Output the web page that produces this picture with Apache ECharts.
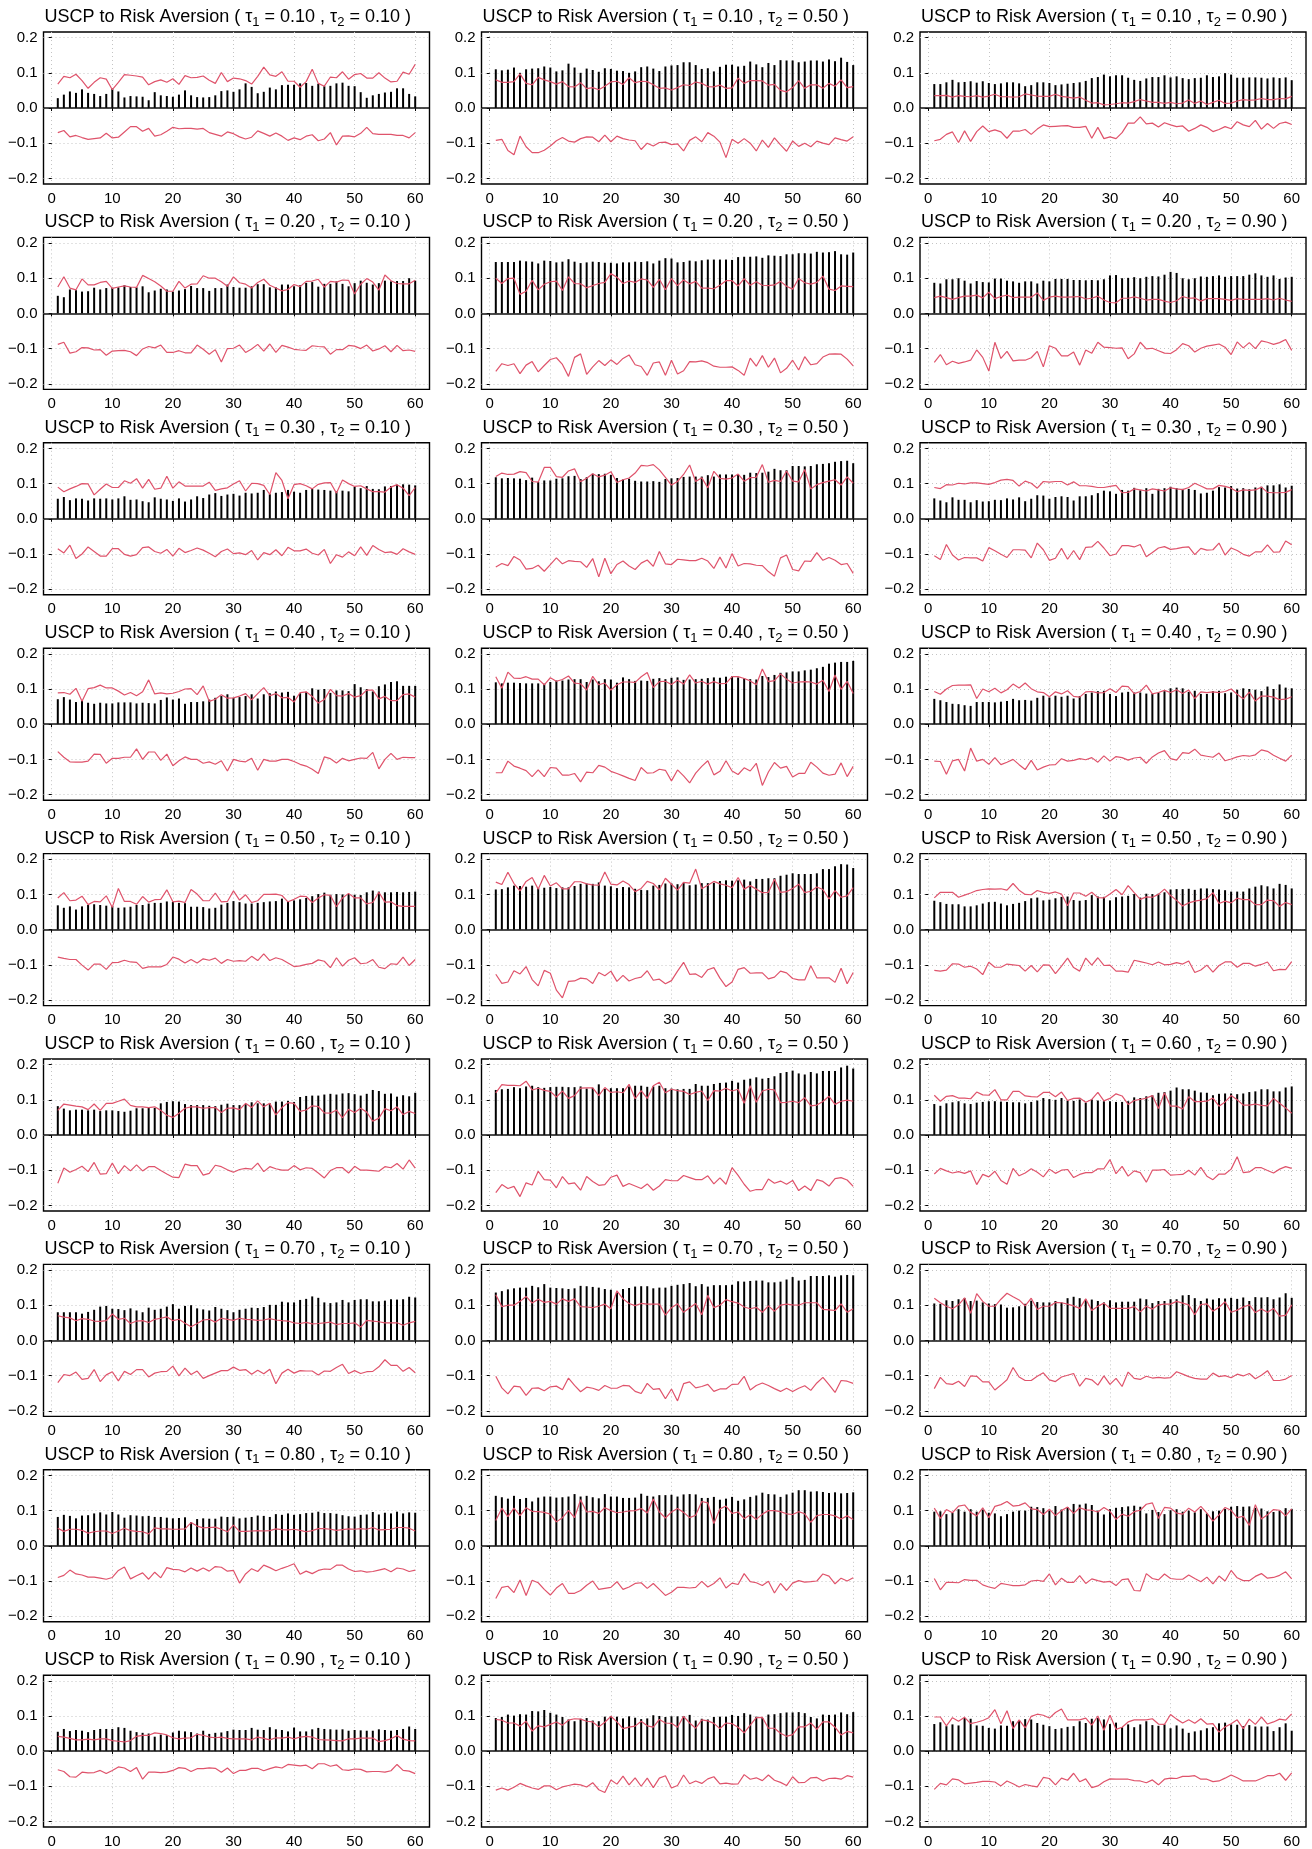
<!DOCTYPE html>
<html><head><meta charset="utf-8">
<script src="https://cdn.jsdelivr.net/npm/echarts@6/dist/echarts.min.js"></script>
<style>html,body{margin:0;padding:0;background:#fff}#c{width:1312px;height:1849px}</style>
</head><body><div id="c"></div>
<script>
const lags = [1,2,3,4,5,6,7,8,9,10,11,12,13,14,15,16,17,18,19,20,21,22,23,24,25,26,27,28,29,30,31,32,33,34,35,36,37,38,39,40,41,42,43,44,45,46,47,48,49,50,51,52,53,54,55,56,57,58,59,60];
const tau1Labels = ['0.10','0.20','0.30','0.40','0.50','0.60','0.70','0.80','0.90'];
const tau2Labels = ['0.10','0.50','0.90'];
const xTickValues = [0,10,20,30,40,50,60];
const yTickValues = [-0.2,-0.1,0,0.1,0.2];

// tau1 = 0.10
const bar_10_10 = [.028,.038,.047,.043,.053,.043,.040,.034,.040,.055,.047,.030,.034,.033,.032,.022,.045,.036,.034,.032,.038,.050,.036,.031,.030,.031,.036,.048,.050,.046,.053,.070,.060,.042,.046,.058,.053,.065,.066,.066,.070,.071,.063,.069,.062,.063,.070,.072,.063,.062,.045,.029,.036,.040,.044,.046,.056,.056,.040,.033];
const up_10_10 = [.068,.090,.086,.096,.078,.056,.073,.086,.082,.052,.073,.095,.093,.091,.088,.066,.075,.080,.073,.083,.067,.092,.086,.087,.091,.079,.070,.101,.075,.085,.083,.078,.068,.090,.116,.094,.090,.103,.076,.076,.059,.075,.110,.070,.062,.088,.086,.103,.082,.095,.098,.085,.085,.100,.085,.074,.076,.102,.096,.124];
const lo_10_10 = [-.070,-.064,-.082,-.078,-.084,-.089,-.087,-.085,-.072,-.085,-.083,-.068,-.053,-.053,-.066,-.058,-.080,-.076,-.066,-.055,-.059,-.058,-.058,-.060,-.058,-.070,-.075,-.080,-.068,-.073,-.082,-.088,-.083,-.065,-.072,-.080,-.071,-.080,-.092,-.085,-.090,-.080,-.076,-.093,-.088,-.070,-.105,-.080,-.079,-.082,-.072,-.055,-.073,-.075,-.075,-.075,-.078,-.078,-.085,-.070];
const bar_10_50 = [.110,.107,.109,.115,.100,.110,.112,.113,.118,.115,.104,.107,.126,.115,.100,.112,.108,.103,.113,.111,.106,.105,.100,.104,.116,.118,.112,.105,.118,.121,.122,.130,.130,.122,.111,.113,.104,.117,.123,.123,.118,.120,.132,.124,.116,.128,.122,.136,.135,.135,.130,.132,.135,.135,.132,.138,.133,.143,.131,.122];
const up_10_50 = [.080,.073,.073,.075,.097,.070,.066,.087,.080,.075,.068,.075,.061,.060,.072,.055,.058,.052,.062,.074,.076,.067,.086,.072,.076,.075,.066,.056,.057,.051,.058,.066,.064,.074,.070,.061,.060,.065,.056,.057,.085,.070,.078,.078,.077,.065,.067,.050,.046,.058,.078,.056,.066,.066,.056,.070,.062,.080,.058,.061];
const lo_10_50 = [-.092,-.089,-.121,-.133,-.080,-.110,-.127,-.127,-.120,-.108,-.093,-.084,-.094,-.097,-.087,-.082,-.083,-.096,-.077,-.096,-.080,-.087,-.091,-.093,-.118,-.100,-.108,-.098,-.097,-.104,-.102,-.122,-.092,-.082,-.096,-.070,-.080,-.097,-.141,-.089,-.100,-.087,-.100,-.122,-.091,-.112,-.085,-.105,-.123,-.094,-.109,-.100,-.110,-.094,-.100,-.104,-.085,-.090,-.094,-.082];
const bar_10_90 = [.068,.068,.073,.080,.073,.074,.076,.072,.076,.071,.068,.070,.073,.073,.070,.062,.065,.073,.073,.071,.065,.067,.069,.071,.073,.077,.085,.088,.095,.090,.093,.093,.086,.080,.077,.084,.088,.088,.093,.087,.090,.085,.082,.085,.086,.093,.088,.090,.099,.095,.086,.086,.087,.087,.086,.084,.087,.085,.087,.079];
const up_10_90 = [.035,.035,.036,.031,.035,.033,.032,.035,.031,.034,.039,.032,.032,.031,.032,.040,.037,.034,.033,.033,.039,.033,.031,.028,.031,.022,.014,.015,.009,.010,.012,.015,.014,.018,.024,.020,.016,.016,.013,.016,.012,.014,.023,.013,.020,.010,.016,.022,.013,.014,.020,.024,.022,.023,.027,.024,.024,.027,.026,.033];
const lo_10_90 = [-.093,-.089,-.075,-.068,-.098,-.065,-.095,-.067,-.051,-.067,-.062,-.068,-.086,-.066,-.066,-.061,-.075,-.060,-.048,-.053,-.052,-.051,-.050,-.055,-.055,-.052,-.086,-.055,-.087,-.082,-.087,-.070,-.043,-.043,-.025,-.045,-.043,-.054,-.042,-.048,-.053,-.051,-.066,-.058,-.048,-.055,-.067,-.061,-.053,-.059,-.039,-.048,-.053,-.035,-.060,-.044,-.058,-.044,-.040,-.047];
// tau1 = 0.20
const bar_20_10 = [.050,.046,.068,.066,.062,.063,.073,.068,.072,.073,.074,.080,.075,.074,.077,.060,.065,.070,.068,.062,.065,.069,.078,.072,.072,.064,.072,.072,.082,.075,.073,.073,.077,.083,.083,.074,.074,.082,.082,.077,.080,.087,.089,.076,.084,.084,.091,.084,.077,.086,.093,.087,.082,.086,.093,.091,.092,.092,.100,.093];
const up_20_10 = [.075,.104,.072,.067,.098,.081,.081,.088,.091,.071,.075,.078,.075,.074,.108,.099,.090,.078,.063,.063,.091,.072,.083,.084,.107,.100,.100,.090,.077,.104,.087,.083,.072,.088,.097,.080,.072,.064,.068,.082,.076,.091,.092,.097,.075,.091,.089,.095,.094,.055,.083,.099,.089,.066,.109,.093,.085,.084,.084,.094];
const lo_20_10 = [-.088,-.082,-.113,-.109,-.097,-.098,-.104,-.103,-.119,-.107,-.106,-.105,-.109,-.120,-.101,-.094,-.098,-.090,-.111,-.111,-.106,-.112,-.112,-.090,-.102,-.116,-.103,-.138,-.100,-.099,-.090,-.111,-.101,-.088,-.107,-.087,-.111,-.091,-.096,-.102,-.104,-.105,-.092,-.094,-.095,-.116,-.103,-.103,-.091,-.093,-.100,-.090,-.107,-.101,-.092,-.109,-.091,-.106,-.104,-.108];
const bar_20_50 = [.146,.146,.146,.146,.150,.148,.147,.142,.150,.149,.145,.147,.154,.147,.143,.145,.147,.146,.144,.144,.142,.145,.145,.147,.146,.148,.142,.150,.157,.156,.145,.146,.150,.148,.151,.153,.153,.153,.153,.152,.160,.161,.161,.162,.158,.165,.164,.163,.168,.168,.171,.171,.170,.175,.173,.174,.177,.168,.167,.173];
const up_20_50 = [.100,.085,.099,.100,.054,.063,.094,.067,.083,.090,.092,.065,.104,.085,.084,.073,.079,.085,.088,.113,.103,.085,.092,.088,.098,.095,.074,.097,.067,.099,.079,.095,.084,.091,.072,.072,.070,.080,.093,.093,.078,.099,.080,.090,.080,.079,.081,.091,.077,.069,.099,.087,.083,.088,.106,.069,.065,.078,.077,.076];
const lo_20_50 = [-.165,-.143,-.148,-.143,-.171,-.147,-.137,-.166,-.148,-.131,-.126,-.145,-.179,-.125,-.115,-.173,-.152,-.134,-.148,-.132,-.145,-.128,-.118,-.146,-.151,-.176,-.141,-.138,-.176,-.133,-.172,-.163,-.137,-.138,-.135,-.140,-.150,-.153,-.153,-.152,-.162,-.176,-.127,-.150,-.120,-.153,-.127,-.169,-.156,-.133,-.161,-.123,-.146,-.143,-.124,-.116,-.115,-.116,-.130,-.149];
const bar_20_90 = [.087,.085,.097,.097,.100,.093,.085,.092,.089,.088,.099,.099,.093,.091,.087,.091,.091,.085,.093,.091,.098,.098,.098,.095,.095,.094,.095,.094,.097,.108,.109,.100,.101,.103,.100,.104,.106,.105,.110,.118,.115,.100,.097,.100,.105,.104,.106,.108,.104,.106,.106,.106,.110,.114,.108,.104,.108,.098,.102,.104];
const up_20_90 = [.045,.049,.045,.040,.045,.049,.049,.052,.044,.060,.042,.048,.052,.045,.046,.046,.046,.058,.037,.046,.049,.046,.046,.047,.048,.041,.043,.049,.038,.031,.030,.043,.043,.047,.043,.038,.040,.040,.035,.031,.036,.048,.043,.044,.035,.042,.042,.042,.040,.037,.042,.040,.040,.040,.040,.042,.038,.043,.038,.034];
const lo_20_90 = [-.139,-.117,-.146,-.136,-.142,-.138,-.133,-.104,-.125,-.164,-.082,-.128,-.108,-.135,-.133,-.133,-.126,-.108,-.152,-.092,-.099,-.121,-.121,-.110,-.147,-.104,-.113,-.082,-.096,-.097,-.099,-.098,-.129,-.115,-.082,-.101,-.099,-.106,-.113,-.114,-.103,-.086,-.092,-.110,-.099,-.093,-.090,-.087,-.096,-.117,-.081,-.098,-.083,-.100,-.078,-.082,-.088,-.083,-.074,-.105];
// tau1 = 0.30
const bar_30_10 = [.057,.062,.053,.058,.057,.052,.058,.057,.058,.055,.058,.064,.054,.055,.050,.047,.061,.057,.055,.051,.058,.049,.055,.064,.059,.069,.073,.065,.069,.071,.066,.074,.072,.074,.082,.070,.074,.076,.082,.077,.074,.082,.085,.083,.082,.080,.078,.080,.078,.091,.087,.093,.085,.084,.092,.093,.097,.098,.097,.095];
const up_30_10 = [.090,.077,.085,.092,.100,.099,.068,.084,.099,.089,.089,.108,.101,.114,.087,.112,.084,.087,.121,.087,.105,.093,.093,.093,.093,.104,.081,.085,.088,.099,.108,.079,.101,.100,.095,.069,.131,.109,.057,.097,.100,.094,.085,.098,.102,.103,.073,.110,.100,.092,.094,.085,.077,.077,.076,.090,.097,.087,.066,.089];
const lo_30_10 = [-.085,-.097,-.075,-.113,-.100,-.080,-.093,-.106,-.106,-.085,-.085,-.101,-.106,-.102,-.082,-.080,-.093,-.098,-.087,-.106,-.084,-.096,-.090,-.083,-.089,-.098,-.108,-.093,-.086,-.099,-.097,-.102,-.090,-.117,-.096,-.102,-.088,-.105,-.081,-.091,-.091,-.086,-.098,-.103,-.087,-.127,-.102,-.109,-.094,-.105,-.080,-.104,-.076,-.087,-.096,-.094,-.101,-.085,-.094,-.101];
const bar_30_50 = [.118,.115,.116,.115,.114,.110,.117,.105,.109,.109,.114,.115,.121,.122,.113,.118,.128,.127,.128,.125,.116,.112,.114,.108,.106,.106,.107,.105,.113,.115,.116,.119,.120,.120,.120,.124,.120,.126,.126,.126,.126,.125,.131,.130,.131,.134,.142,.138,.138,.150,.150,.149,.150,.155,.156,.158,.162,.164,.165,.158];
const up_30_50 = [.120,.130,.126,.127,.134,.131,.106,.104,.146,.146,.120,.118,.136,.142,.105,.115,.128,.119,.124,.134,.103,.111,.116,.130,.152,.150,.154,.139,.118,.096,.106,.126,.153,.106,.117,.088,.135,.115,.113,.116,.127,.107,.117,.118,.154,.104,.109,.106,.136,.107,.105,.140,.085,.097,.103,.107,.111,.096,.119,.101];
const lo_30_50 = [-.137,-.127,-.133,-.107,-.117,-.143,-.141,-.132,-.149,-.130,-.111,-.128,-.119,-.121,-.122,-.138,-.113,-.165,-.112,-.156,-.130,-.120,-.134,-.144,-.126,-.117,-.135,-.093,-.128,-.130,-.115,-.117,-.119,-.119,-.112,-.120,-.141,-.109,-.140,-.099,-.134,-.127,-.128,-.132,-.133,-.150,-.163,-.111,-.103,-.144,-.148,-.120,-.121,-.096,-.118,-.110,-.118,-.130,-.127,-.155];
const bar_30_90 = [.058,.052,.047,.061,.054,.054,.047,.053,.049,.050,.054,.053,.058,.055,.061,.050,.057,.067,.066,.057,.062,.064,.062,.052,.064,.064,.067,.073,.080,.078,.071,.082,.080,.088,.081,.087,.071,.085,.087,.091,.087,.085,.085,.082,.072,.074,.080,.090,.089,.093,.086,.087,.084,.089,.091,.095,.095,.098,.089,.094];
const up_30_90 = [.089,.086,.097,.096,.101,.099,.102,.102,.100,.098,.103,.110,.112,.109,.093,.107,.101,.087,.106,.104,.106,.106,.096,.105,.094,.094,.092,.089,.089,.092,.095,.074,.075,.085,.082,.079,.085,.082,.079,.088,.085,.083,.089,.101,.093,.085,.085,.095,.092,.087,.077,.082,.081,.082,.090,.075,.074,.074,.075,.083];
const lo_30_90 = [-.105,-.116,-.073,-.103,-.117,-.110,-.111,-.111,-.120,-.082,-.091,-.101,-.110,-.088,-.088,-.089,-.111,-.069,-.088,-.118,-.112,-.084,-.115,-.090,-.116,-.081,-.080,-.064,-.083,-.105,-.100,-.076,-.076,-.080,-.073,-.108,-.096,-.083,-.079,-.087,-.085,-.081,-.080,-.102,-.084,-.089,-.088,-.069,-.103,-.083,-.090,-.101,-.106,-.094,-.094,-.074,-.095,-.094,-.063,-.074];
// tau1 = 0.40
const bar_40_10 = [.071,.077,.070,.063,.067,.061,.058,.061,.059,.059,.062,.062,.062,.059,.061,.060,.059,.069,.076,.070,.073,.058,.063,.063,.065,.070,.075,.080,.085,.075,.077,.080,.085,.073,.085,.088,.093,.090,.092,.081,.088,.092,.102,.098,.100,.089,.096,.096,.094,.114,.105,.100,.093,.108,.113,.120,.122,.109,.109,.109];
const up_40_10 = [.089,.090,.085,.102,.065,.101,.104,.111,.103,.103,.094,.083,.090,.081,.092,.126,.086,.089,.086,.088,.093,.100,.101,.084,.109,.065,.071,.084,.074,.075,.080,.087,.069,.087,.104,.081,.087,.075,.076,.063,.090,.092,.079,.060,.070,.099,.081,.080,.087,.077,.081,.097,.097,.072,.079,.067,.067,.084,.086,.077];
const lo_40_10 = [-.078,-.094,-.107,-.108,-.108,-.105,-.085,-.086,-.111,-.097,-.097,-.094,-.094,-.070,-.100,-.079,-.079,-.103,-.085,-.118,-.104,-.093,-.100,-.100,-.111,-.107,-.114,-.104,-.133,-.100,-.105,-.107,-.097,-.131,-.100,-.105,-.105,-.100,-.100,-.106,-.114,-.119,-.128,-.140,-.093,-.098,-.110,-.097,-.104,-.100,-.096,-.097,-.080,-.127,-.100,-.083,-.100,-.094,-.095,-.095];
const bar_40_50 = [.119,.116,.118,.118,.117,.116,.116,.116,.115,.120,.124,.124,.127,.128,.128,.120,.127,.122,.128,.127,.118,.133,.128,.123,.124,.123,.129,.131,.128,.132,.133,.126,.127,.128,.129,.131,.133,.132,.135,.136,.133,.131,.128,.127,.137,.134,.140,.146,.147,.150,.150,.153,.155,.159,.163,.172,.175,.177,.177,.180];
const up_40_50 = [.135,.102,.148,.131,.130,.135,.128,.128,.112,.132,.122,.127,.137,.117,.115,.097,.136,.112,.117,.097,.112,.120,.120,.119,.135,.147,.104,.121,.122,.113,.125,.114,.140,.117,.122,.114,.121,.115,.116,.135,.135,.130,.123,.112,.157,.121,.124,.143,.128,.117,.120,.121,.120,.114,.125,.093,.140,.099,.122,.087];
const lo_40_50 = [-.138,-.138,-.105,-.119,-.125,-.132,-.149,-.130,-.149,-.123,-.125,-.145,-.145,-.140,-.164,-.136,-.138,-.117,-.122,-.134,-.140,-.147,-.154,-.160,-.123,-.139,-.138,-.128,-.131,-.161,-.130,-.147,-.167,-.139,-.120,-.104,-.144,-.134,-.104,-.133,-.143,-.124,-.133,-.111,-.174,-.136,-.109,-.125,-.120,-.150,-.140,-.140,-.108,-.122,-.139,-.145,-.142,-.110,-.149,-.120];
const bar_40_90 = [.072,.068,.063,.058,.057,.054,.052,.063,.063,.063,.062,.064,.066,.072,.068,.069,.067,.075,.081,.076,.081,.078,.081,.073,.080,.086,.090,.094,.095,.086,.080,.090,.092,.090,.090,.087,.087,.090,.094,.102,.104,.102,.092,.095,.086,.086,.094,.095,.088,.090,.098,.102,.100,.098,.094,.107,.100,.113,.104,.102];
const up_40_90 = [.093,.085,.100,.110,.111,.111,.112,.073,.100,.092,.102,.089,.098,.114,.103,.117,.101,.092,.090,.078,.092,.086,.095,.079,.077,.092,.093,.089,.090,.101,.090,.108,.107,.087,.093,.111,.086,.090,.096,.090,.098,.087,.097,.073,.092,.090,.092,.090,.093,.100,.085,.072,.091,.066,.080,.080,.077,.070,.071,.078];
const lo_40_90 = [-.105,-.106,-.142,-.104,-.100,-.133,-.068,-.105,-.100,-.114,-.095,-.115,-.108,-.100,-.115,-.129,-.103,-.130,-.122,-.116,-.115,-.098,-.105,-.103,-.098,-.101,-.095,-.108,-.090,-.105,-.092,-.095,-.102,-.096,-.094,-.111,-.093,-.082,-.075,-.098,-.102,-.081,-.083,-.071,-.088,-.091,-.094,-.082,-.104,-.099,-.093,-.089,-.091,-.087,-.073,-.077,-.088,-.097,-.105,-.088];
// tau1 = 0.50
const bar_50_10 = [.069,.062,.066,.057,.066,.070,.072,.070,.068,.067,.062,.063,.065,.070,.070,.074,.076,.076,.080,.079,.076,.075,.065,.065,.064,.060,.062,.071,.076,.081,.078,.074,.074,.076,.078,.080,.081,.088,.081,.083,.086,.090,.095,.101,.105,.099,.101,.100,.101,.099,.098,.106,.111,.108,.106,.106,.107,.106,.107,.108];
const up_50_10 = [.090,.105,.082,.084,.095,.071,.080,.079,.096,.063,.117,.080,.080,.072,.094,.078,.085,.086,.113,.079,.081,.077,.114,.101,.082,.082,.104,.079,.080,.110,.084,.099,.077,.082,.100,.100,.101,.097,.079,.086,.095,.094,.077,.090,.099,.097,.065,.090,.103,.090,.090,.073,.077,.106,.078,.079,.068,.066,.066,.066];
const lo_50_10 = [-.078,-.082,-.085,-.085,-.101,-.115,-.098,-.098,-.113,-.094,-.093,-.087,-.092,-.093,-.110,-.106,-.106,-.106,-.099,-.078,-.084,-.095,-.085,-.095,-.083,-.087,-.081,-.096,-.085,-.090,-.088,-.090,-.076,-.088,-.069,-.088,-.080,-.085,-.095,-.105,-.103,-.099,-.096,-.086,-.090,-.108,-.080,-.104,-.087,-.080,-.097,-.095,-.085,-.107,-.111,-.097,-.099,-.078,-.102,-.085];
const bar_50_50 = [.114,.115,.120,.125,.124,.122,.125,.118,.119,.121,.118,.120,.120,.124,.130,.131,.130,.134,.125,.123,.118,.121,.120,.116,.113,.112,.125,.127,.131,.131,.129,.133,.126,.128,.132,.132,.133,.138,.140,.139,.140,.142,.137,.144,.144,.146,.146,.153,.156,.160,.158,.158,.158,.160,.172,.172,.180,.186,.185,.175];
const up_50_50 = [.135,.128,.163,.131,.110,.137,.148,.115,.154,.124,.133,.116,.116,.136,.136,.130,.127,.126,.164,.129,.127,.138,.128,.108,.117,.137,.131,.113,.146,.129,.112,.134,.132,.172,.116,.126,.137,.130,.126,.119,.148,.115,.125,.115,.105,.106,.143,.106,.108,.117,.129,.105,.109,.121,.114,.087,.111,.092,.096,.119];
const lo_50_50 = [-.127,-.153,-.149,-.117,-.126,-.105,-.142,-.160,-.116,-.124,-.172,-.194,-.147,-.146,-.138,-.140,-.153,-.122,-.131,-.118,-.147,-.130,-.146,-.139,-.135,-.117,-.144,-.141,-.154,-.145,-.118,-.093,-.127,-.126,-.136,-.114,-.108,-.138,-.162,-.149,-.113,-.108,-.124,-.123,-.123,-.140,-.135,-.118,-.123,-.139,-.143,-.143,-.103,-.137,-.137,-.137,-.150,-.110,-.154,-.122];
const bar_50_90 = [.082,.078,.073,.072,.072,.066,.066,.069,.074,.078,.079,.074,.069,.073,.076,.081,.089,.091,.083,.085,.089,.093,.094,.084,.082,.084,.098,.094,.093,.083,.092,.094,.096,.101,.091,.102,.101,.102,.106,.114,.115,.115,.116,.113,.117,.117,.115,.114,.112,.108,.108,.108,.117,.122,.126,.123,.117,.130,.127,.117];
const up_50_90 = [.090,.106,.106,.106,.092,.098,.104,.111,.114,.116,.115,.116,.112,.131,.112,.100,.099,.111,.106,.103,.107,.101,.068,.104,.104,.095,.106,.091,.090,.101,.114,.099,.125,.105,.086,.093,.092,.100,.115,.097,.083,.067,.076,.081,.084,.088,.105,.074,.081,.076,.089,.085,.085,.071,.071,.084,.082,.066,.077,.071];
const lo_50_90 = [-.116,-.118,-.115,-.097,-.098,-.107,-.104,-.112,-.128,-.093,-.107,-.107,-.098,-.100,-.102,-.118,-.102,-.120,-.100,-.101,-.125,-.104,-.081,-.108,-.118,-.081,-.101,-.080,-.102,-.101,-.118,-.118,-.121,-.087,-.091,-.095,-.100,-.092,-.100,-.099,-.094,-.098,-.089,-.122,-.115,-.101,-.121,-.102,-.092,-.092,-.107,-.096,-.096,-.104,-.099,-.092,-.117,-.113,-.114,-.091];
// tau1 = 0.60
const bar_60_10 = [.082,.075,.070,.072,.072,.070,.072,.068,.070,.070,.068,.066,.069,.076,.076,.077,.077,.090,.094,.096,.095,.088,.085,.085,.085,.083,.082,.086,.089,.085,.085,.088,.093,.090,.090,.090,.095,.095,.097,.094,.108,.111,.112,.112,.115,.117,.115,.118,.119,.116,.112,.117,.128,.125,.117,.118,.109,.113,.110,.120];
const up_60_10 = [.070,.088,.085,.082,.080,.072,.088,.070,.090,.090,.096,.102,.084,.080,.080,.078,.080,.070,.056,.050,.062,.076,.080,.080,.076,.078,.078,.064,.076,.077,.072,.090,.078,.097,.080,.090,.057,.078,.092,.090,.067,.071,.083,.081,.063,.062,.071,.049,.073,.064,.076,.065,.039,.048,.075,.069,.080,.058,.067,.061];
const lo_60_10 = [-.137,-.094,-.106,-.098,-.089,-.104,-.078,-.111,-.110,-.080,-.110,-.087,-.102,-.085,-.102,-.090,-.090,-.101,-.111,-.120,-.121,-.083,-.087,-.087,-.114,-.109,-.086,-.090,-.099,-.106,-.098,-.095,-.097,-.080,-.104,-.090,-.096,-.100,-.100,-.087,-.099,-.093,-.095,-.108,-.122,-.101,-.093,-.093,-.108,-.089,-.100,-.100,-.101,-.103,-.090,-.093,-.081,-.097,-.071,-.094];
const bar_60_50 = [.128,.130,.131,.136,.133,.138,.140,.136,.134,.136,.137,.137,.136,.136,.138,.132,.134,.144,.131,.133,.133,.133,.138,.140,.140,.137,.138,.140,.133,.132,.130,.131,.131,.145,.140,.140,.145,.148,.149,.154,.149,.157,.160,.164,.160,.162,.167,.176,.179,.183,.175,.172,.179,.175,.182,.182,.182,.192,.197,.189];
const up_60_50 = [.120,.143,.141,.141,.140,.153,.128,.133,.127,.124,.108,.125,.104,.112,.133,.134,.134,.112,.135,.121,.123,.120,.144,.103,.126,.104,.140,.150,.120,.130,.126,.124,.115,.121,.125,.098,.126,.125,.133,.125,.130,.090,.140,.093,.125,.130,.128,.092,.093,.096,.092,.106,.083,.085,.095,.110,.087,.096,.099,.096];
const lo_60_50 = [-.164,-.141,-.152,-.146,-.175,-.136,-.142,-.103,-.127,-.128,-.150,-.118,-.139,-.136,-.157,-.118,-.132,-.143,-.141,-.120,-.114,-.146,-.138,-.145,-.152,-.139,-.157,-.145,-.127,-.130,-.130,-.115,-.121,-.127,-.127,-.116,-.139,-.122,-.140,-.093,-.115,-.140,-.160,-.155,-.155,-.125,-.137,-.131,-.140,-.129,-.158,-.145,-.158,-.127,-.132,-.145,-.124,-.121,-.128,-.146];
const bar_60_90 = [.088,.083,.090,.093,.096,.090,.088,.092,.094,.096,.096,.095,.094,.093,.093,.090,.094,.098,.105,.102,.100,.105,.098,.097,.101,.092,.101,.098,.096,.096,.094,.094,.096,.107,.105,.110,.113,.120,.122,.126,.135,.130,.130,.126,.121,.120,.113,.117,.118,.118,.116,.118,.122,.124,.130,.130,.124,.124,.135,.138];
const up_60_90 = [.113,.096,.110,.112,.105,.105,.103,.122,.114,.113,.129,.100,.100,.124,.124,.111,.109,.108,.121,.121,.109,.122,.098,.104,.105,.093,.101,.121,.097,.104,.117,.111,.087,.098,.101,.105,.112,.075,.120,.082,.082,.074,.109,.095,.095,.096,.105,.082,.094,.112,.100,.085,.085,.088,.084,.083,.104,.090,.077,.062];
const lo_60_90 = [-.111,-.095,-.102,-.108,-.104,-.109,-.102,-.141,-.112,-.119,-.103,-.129,-.140,-.095,-.116,-.108,-.096,-.106,-.119,-.097,-.109,-.100,-.098,-.121,-.112,-.107,-.107,-.096,-.096,-.070,-.110,-.089,-.117,-.102,-.107,-.134,-.100,-.100,-.098,-.114,-.113,-.112,-.100,-.114,-.092,-.117,-.127,-.111,-.111,-.097,-.062,-.107,-.105,-.093,-.093,-.101,-.108,-.097,-.090,-.095];
// tau1 = 0.70
const bar_70_10 = [.080,.080,.080,.080,.076,.081,.087,.096,.098,.090,.089,.086,.091,.085,.080,.093,.087,.090,.096,.103,.090,.098,.100,.091,.088,.085,.095,.090,.086,.080,.087,.090,.093,.092,.095,.101,.101,.110,.108,.108,.115,.118,.125,.121,.108,.106,.108,.115,.108,.115,.117,.117,.111,.111,.113,.117,.116,.117,.124,.122];
const up_70_10 = [.070,.066,.064,.056,.062,.060,.055,.054,.056,.075,.060,.063,.048,.055,.056,.051,.060,.063,.067,.056,.060,.049,.039,.048,.058,.060,.052,.063,.060,.057,.063,.060,.059,.057,.058,.062,.058,.056,.055,.050,.048,.051,.047,.048,.050,.052,.045,.048,.048,.050,.038,.057,.055,.053,.050,.050,.050,.043,.050,.054];
const lo_70_10 = [-.120,-.097,-.100,-.090,-.111,-.108,-.083,-.117,-.098,-.089,-.115,-.088,-.097,-.083,-.083,-.104,-.093,-.089,-.088,-.073,-.101,-.079,-.097,-.087,-.108,-.100,-.093,-.086,-.086,-.076,-.085,-.083,-.096,-.085,-.095,-.082,-.123,-.093,-.082,-.093,-.086,-.087,-.087,-.098,-.087,-.088,-.077,-.068,-.094,-.086,-.094,-.089,-.088,-.075,-.055,-.071,-.071,-.088,-.077,-.092];
const bar_70_50 = [.136,.140,.145,.148,.150,.150,.155,.151,.160,.150,.149,.148,.146,.148,.155,.154,.152,.150,.146,.144,.138,.146,.149,.153,.154,.154,.148,.150,.150,.155,.158,.160,.163,.154,.160,.153,.157,.157,.157,.158,.168,.167,.169,.170,.170,.165,.165,.167,.173,.180,.170,.172,.183,.183,.183,.185,.181,.185,.186,.185];
const up_70_50 = [.130,.096,.100,.100,.111,.125,.106,.117,.108,.111,.103,.118,.111,.118,.096,.095,.093,.097,.103,.090,.141,.118,.105,.099,.105,.103,.103,.103,.072,.093,.104,.080,.093,.105,.073,.128,.093,.100,.116,.110,.106,.095,.090,.094,.080,.098,.083,.100,.103,.101,.100,.107,.107,.107,.088,.087,.085,.104,.080,.090];
const lo_70_50 = [-.102,-.135,-.152,-.130,-.132,-.156,-.136,-.135,-.143,-.132,-.130,-.140,-.107,-.128,-.146,-.133,-.136,-.142,-.128,-.136,-.136,-.128,-.129,-.145,-.151,-.122,-.139,-.137,-.166,-.138,-.172,-.123,-.118,-.135,-.131,-.125,-.145,-.138,-.138,-.125,-.124,-.102,-.141,-.128,-.121,-.128,-.137,-.145,-.136,-.145,-.136,-.129,-.142,-.121,-.105,-.126,-.148,-.114,-.116,-.122];
const bar_70_90 = [.105,.104,.114,.112,.117,.120,.112,.113,.108,.105,.103,.102,.093,.094,.097,.104,.113,.109,.108,.108,.112,.108,.120,.124,.120,.116,.116,.112,.108,.114,.108,.110,.110,.110,.119,.117,.106,.112,.112,.117,.117,.128,.129,.120,.112,.119,.116,.120,.119,.121,.118,.122,.112,.123,.122,.123,.117,.122,.134,.121];
const up_70_90 = [.120,.107,.097,.090,.101,.121,.077,.133,.111,.097,.097,.117,.134,.124,.115,.098,.120,.088,.097,.097,.108,.107,.103,.098,.091,.118,.085,.097,.106,.091,.091,.091,.091,.096,.081,.097,.089,.101,.103,.103,.111,.106,.101,.073,.102,.104,.083,.094,.110,.080,.086,.095,.101,.079,.089,.080,.091,.069,.071,.101];
const lo_70_90 = [-.137,-.105,-.123,-.125,-.116,-.131,-.101,-.102,-.118,-.118,-.141,-.127,-.112,-.077,-.104,-.114,-.114,-.102,-.092,-.112,-.117,-.104,-.099,-.094,-.130,-.108,-.112,-.127,-.101,-.125,-.108,-.131,-.090,-.108,-.111,-.102,-.107,-.105,-.107,-.106,-.089,-.096,-.103,-.108,-.110,-.110,-.093,-.103,-.100,-.106,-.096,-.101,-.094,-.109,-.099,-.086,-.114,-.114,-.110,-.100];
// tau1 = 0.80
const bar_80_10 = [.082,.088,.085,.078,.086,.087,.092,.095,.089,.096,.089,.080,.087,.086,.084,.085,.082,.082,.080,.078,.079,.081,.067,.076,.078,.077,.077,.083,.082,.083,.078,.080,.082,.086,.085,.082,.090,.088,.092,.088,.090,.093,.094,.097,.093,.093,.091,.087,.084,.083,.088,.089,.096,.089,.094,.092,.097,.092,.095,.094];
const up_80_10 = [.050,.041,.047,.047,.044,.036,.040,.042,.042,.035,.042,.050,.043,.041,.040,.034,.051,.048,.048,.047,.047,.048,.066,.056,.051,.052,.053,.047,.040,.059,.041,.041,.042,.043,.042,.043,.048,.046,.045,.047,.044,.040,.043,.049,.049,.047,.044,.046,.048,.047,.049,.047,.052,.045,.046,.047,.052,.052,.050,.042];
const lo_80_10 = [-.090,-.084,-.069,-.080,-.083,-.089,-.089,-.092,-.095,-.090,-.070,-.060,-.094,-.085,-.077,-.095,-.075,-.091,-.062,-.067,-.068,-.074,-.063,-.072,-.063,-.072,-.059,-.061,-.072,-.070,-.106,-.080,-.065,-.073,-.055,-.062,-.071,-.064,-.058,-.051,-.081,-.072,-.079,-.070,-.066,-.067,-.055,-.055,-.066,-.073,-.071,-.075,-.073,-.069,-.065,-.074,-.063,-.066,-.073,-.069];
const bar_80_50 = [.142,.138,.134,.142,.133,.136,.126,.137,.140,.140,.137,.138,.140,.147,.140,.142,.138,.135,.147,.140,.140,.136,.136,.137,.148,.142,.140,.144,.144,.145,.140,.146,.147,.146,.136,.136,.139,.131,.134,.139,.128,.132,.139,.143,.151,.147,.146,.139,.146,.151,.158,.158,.154,.155,.153,.150,.152,.149,.150,.152];
const up_80_50 = [.072,.107,.083,.107,.086,.108,.098,.097,.095,.090,.068,.080,.101,.080,.131,.096,.098,.092,.108,.100,.094,.096,.099,.100,.106,.093,.133,.096,.079,.096,.106,.095,.080,.087,.126,.122,.063,.105,.113,.092,.096,.077,.088,.075,.090,.100,.100,.097,.091,.089,.097,.091,.067,.086,.089,.089,.085,.076,.085,.075];
const lo_80_50 = [-.150,-.118,-.115,-.133,-.097,-.141,-.098,-.105,-.124,-.140,-.120,-.107,-.135,-.135,-.127,-.112,-.100,-.124,-.121,-.118,-.102,-.124,-.117,-.107,-.105,-.121,-.107,-.124,-.141,-.132,-.118,-.118,-.120,-.118,-.101,-.117,-.107,-.091,-.120,-.106,-.110,-.079,-.102,-.105,-.113,-.101,-.134,-.107,-.127,-.106,-.099,-.103,-.102,-.100,-.080,-.086,-.108,-.092,-.100,-.091];
const bar_80_90 = [.097,.098,.090,.094,.104,.097,.104,.097,.103,.094,.092,.084,.090,.097,.100,.100,.111,.110,.107,.100,.113,.103,.110,.119,.117,.120,.116,.100,.089,.104,.108,.110,.112,.114,.111,.092,.102,.096,.090,.101,.104,.097,.100,.095,.104,.092,.098,.100,.105,.111,.113,.111,.112,.108,.106,.098,.096,.100,.107,.105];
const up_80_90 = [.107,.078,.103,.094,.113,.116,.095,.085,.108,.080,.112,.117,.126,.113,.115,.122,.105,.103,.089,.104,.086,.100,.110,.092,.108,.102,.101,.096,.109,.098,.075,.090,.084,.097,.101,.118,.122,.078,.109,.107,.093,.090,.107,.096,.112,.093,.070,.088,.109,.101,.080,.084,.058,.117,.076,.088,.103,.101,.085,.105];
const lo_80_90 = [-.093,-.125,-.104,-.104,-.105,-.096,-.098,-.098,-.111,-.117,-.121,-.107,-.110,-.113,-.113,-.111,-.100,-.098,-.101,-.080,-.111,-.092,-.104,-.104,-.085,-.107,-.094,-.099,-.103,-.101,-.113,-.096,-.094,-.127,-.128,-.079,-.093,-.097,-.080,-.093,-.095,-.095,-.083,-.093,-.102,-.089,-.108,-.086,-.100,-.070,-.091,-.099,-.099,-.087,-.079,-.092,-.090,-.084,-.074,-.094];
// tau1 = 0.90
const bar_90_10 = [.055,.063,.057,.060,.058,.054,.060,.063,.063,.063,.068,.066,.058,.054,.052,.050,.041,.047,.045,.053,.058,.056,.054,.050,.058,.049,.052,.053,.057,.061,.060,.060,.066,.061,.060,.068,.062,.060,.056,.067,.056,.056,.062,.066,.063,.062,.061,.062,.058,.060,.059,.058,.058,.062,.060,.058,.060,.063,.070,.063];
const up_90_10 = [.042,.040,.036,.032,.032,.034,.032,.035,.035,.030,.028,.026,.030,.042,.045,.045,.052,.050,.046,.038,.035,.037,.038,.048,.045,.040,.038,.040,.036,.035,.035,.035,.032,.040,.036,.032,.038,.037,.040,.035,.040,.042,.040,.033,.032,.031,.030,.029,.035,.035,.037,.037,.037,.027,.030,.035,.044,.034,.030,.029];
const lo_90_10 = [-.053,-.058,-.073,-.074,-.060,-.062,-.061,-.055,-.064,-.055,-.045,-.048,-.058,-.047,-.080,-.060,-.060,-.061,-.060,-.055,-.047,-.049,-.058,-.050,-.050,-.048,-.049,-.060,-.048,-.064,-.055,-.055,-.049,-.049,-.056,-.050,-.045,-.048,-.038,-.040,-.042,-.040,-.050,-.036,-.036,-.043,-.039,-.053,-.055,-.051,-.052,-.059,-.058,-.058,-.060,-.056,-.038,-.055,-.057,-.064];
const bar_90_50 = [.094,.097,.104,.101,.105,.104,.114,.113,.117,.109,.104,.097,.090,.085,.092,.094,.087,.085,.098,.100,.098,.093,.099,.095,.091,.093,.102,.100,.097,.099,.099,.100,.103,.087,.092,.090,.097,.098,.098,.103,.100,.108,.104,.098,.094,.104,.105,.108,.110,.110,.111,.108,.097,.093,.104,.103,.104,.110,.105,.111];
const up_90_50 = [.090,.088,.080,.080,.071,.085,.057,.072,.069,.076,.083,.074,.088,.092,.091,.085,.083,.069,.082,.099,.083,.064,.068,.071,.085,.072,.068,.090,.080,.079,.068,.099,.080,.065,.089,.086,.079,.064,.080,.078,.068,.052,.074,.095,.096,.065,.065,.051,.042,.047,.069,.069,.080,.062,.083,.083,.068,.046,.056,.052];
const lo_90_50 = [-.111,-.105,-.111,-.103,-.092,-.099,-.105,-.109,-.099,-.099,-.110,-.102,-.098,-.094,-.096,-.102,-.090,-.110,-.118,-.082,-.094,-.071,-.096,-.076,-.100,-.077,-.104,-.077,-.070,-.105,-.098,-.068,-.093,-.085,-.092,-.079,-.073,-.093,-.091,-.094,-.093,-.067,-.080,-.076,-.084,-.068,-.083,-.089,-.098,-.073,-.090,-.089,-.076,-.075,-.085,-.078,-.077,-.080,-.070,-.074];
const bar_90_90 = [.077,.082,.071,.076,.073,.094,.092,.073,.072,.066,.064,.073,.072,.085,.088,.091,.090,.080,.075,.071,.063,.065,.069,.071,.085,.080,.092,.094,.090,.077,.081,.068,.076,.068,.076,.085,.074,.072,.076,.065,.073,.064,.052,.056,.059,.065,.068,.079,.081,.076,.075,.071,.074,.070,.070,.070,.057,.068,.079,.058];
const up_90_90 = [.097,.097,.072,.095,.085,.096,.078,.082,.087,.095,.118,.078,.115,.064,.089,.066,.099,.105,.102,.094,.110,.120,.089,.089,.089,.094,.074,.100,.059,.102,.062,.068,.083,.089,.089,.089,.092,.077,.076,.104,.091,.080,.089,.079,.092,.077,.078,.054,.069,.078,.089,.064,.091,.076,.097,.077,.083,.091,.088,.106];
const lo_90_90 = [-.109,-.092,-.096,-.079,-.082,-.093,-.091,-.089,-.086,-.086,-.088,-.099,-.085,-.093,-.102,-.095,-.099,-.102,-.075,-.078,-.096,-.077,-.083,-.063,-.087,-.079,-.104,-.099,-.087,-.079,-.080,-.080,-.080,-.084,-.085,-.090,-.082,-.096,-.080,-.077,-.078,-.072,-.072,-.070,-.080,-.080,-.087,-.085,-.077,-.068,-.076,-.085,-.085,-.085,-.078,-.070,-.070,-.063,-.083,-.062];

// panels by row (tau1) and column (tau2): [bars, upper band, lower band]
const panelRows = [
  [[bar_10_10,up_10_10,lo_10_10],[bar_10_50,up_10_50,lo_10_50],[bar_10_90,up_10_90,lo_10_90]],
  [[bar_20_10,up_20_10,lo_20_10],[bar_20_50,up_20_50,lo_20_50],[bar_20_90,up_20_90,lo_20_90]],
  [[bar_30_10,up_30_10,lo_30_10],[bar_30_50,up_30_50,lo_30_50],[bar_30_90,up_30_90,lo_30_90]],
  [[bar_40_10,up_40_10,lo_40_10],[bar_40_50,up_40_50,lo_40_50],[bar_40_90,up_40_90,lo_40_90]],
  [[bar_50_10,up_50_10,lo_50_10],[bar_50_50,up_50_50,lo_50_50],[bar_50_90,up_50_90,lo_50_90]],
  [[bar_60_10,up_60_10,lo_60_10],[bar_60_50,up_60_50,lo_60_50],[bar_60_90,up_60_90,lo_60_90]],
  [[bar_70_10,up_70_10,lo_70_10],[bar_70_50,up_70_50,lo_70_50],[bar_70_90,up_70_90,lo_70_90]],
  [[bar_80_10,up_80_10,lo_80_10],[bar_80_50,up_80_50,lo_80_50],[bar_80_90,up_80_90,lo_80_90]],
  [[bar_90_10,up_90_10,lo_90_10],[bar_90_50,up_90_50,lo_90_50],[bar_90_90,up_90_90,lo_90_90]]
];

const FONT = '"Liberation Sans", Arial, Helvetica, sans-serif';
const RED = '#DF536B';
const colLeft = [43.5, 481.5, 920];
const gridW = 386, gridH = 152, rowTop0 = 32, rowStep = 205.4;

const option = { animation: false, backgroundColor: '#fff', title: [], grid: [], xAxis: [], yAxis: [], series: [] };
const pairs = arr => lags.map((x, i) => [x, arr[i]]);
const yFmt = v => (Math.abs(v) < 1e-9 ? '0.0' : (v < 0 ? '\u2212' : '') + Math.abs(v).toFixed(1));

for (let r = 0; r < 9; r++) {
  for (let c = 0; c < 3; c++) {
    const idx = r * 3 + c;
    const top = rowTop0 + r * rowStep;
    const left = colLeft[c];
    const [bars, up, lo] = panelRows[r][c];
    option.title.push({
      left: left + 1, top: top - 26.5, padding: 0,
      text: '{m|USCP to Risk Aversion ( \u03C4}{s|1}{m| = ' + tau1Labels[r] + ' , \u03C4}{s|2}{m| = ' + tau2Labels[c] + ' )}',
      textStyle: {
        fontFamily: FONT, fontWeight: 'normal', color: '#000',
        rich: {
          m: { fontFamily: FONT, fontSize: 18, color: '#000', lineHeight: 23, verticalAlign: 'middle' },
          s: { fontFamily: FONT, fontSize: 13, color: '#000', lineHeight: 13, verticalAlign: 'bottom' }
        }
      }
    });
    option.grid.push({ left: left, top: top, width: gridW, height: gridH, show: true, borderColor: '#000', borderWidth: 1.4, backgroundColor: 'rgba(0,0,0,0)' });
    option.xAxis.push({
      type: 'value', gridIndex: idx, min: -1.36, max: 62.36,
      axisLine: { show: false },
      axisTick: { show: true, length: 3, customValues: xTickValues, lineStyle: { color: '#000' } },
      axisLabel: { customValues: xTickValues, fontFamily: FONT, fontSize: 15, color: '#000', margin: 7 },
      splitLine: { show: true, lineStyle: { type: [1, 3], color: '#c4c4c4', width: 1 } }
    });
    option.yAxis.push({
      type: 'value', gridIndex: idx, min: -0.216, max: 0.216,
      axisLine: { show: false },
      axisTick: { show: true, length: 3, customValues: yTickValues, lineStyle: { color: '#000' } },
      axisLabel: { customValues: yTickValues, fontFamily: FONT, fontSize: 15, color: '#000', margin: 6, formatter: yFmt },
      splitLine: { show: true, lineStyle: { type: [1, 3], color: '#c4c4c4', width: 1 } }
    });
    option.series.push({
      type: 'bar', xAxisIndex: idx, yAxisIndex: idx, data: pairs(bars), barWidth: 2,
      itemStyle: { color: '#000' }, silent: true,
      markLine: { silent: true, symbol: ['none', 'none'], label: { show: false }, animation: false,
        lineStyle: { color: '#111', width: 1.6, type: 'solid' }, data: [{ yAxis: 0 }] }
    });
    option.series.push({
      type: 'line', xAxisIndex: idx, yAxisIndex: idx, data: pairs(up), symbol: 'none', silent: true,
      lineStyle: { color: RED, width: 1.2 }
    });
    option.series.push({
      type: 'line', xAxisIndex: idx, yAxisIndex: idx, data: pairs(lo), symbol: 'none', silent: true,
      lineStyle: { color: RED, width: 1.2 }
    });
  }
}

const chart = echarts.init(document.getElementById('c'), null, { renderer: 'canvas' });
chart.setOption(option);
</script>
</body></html>
